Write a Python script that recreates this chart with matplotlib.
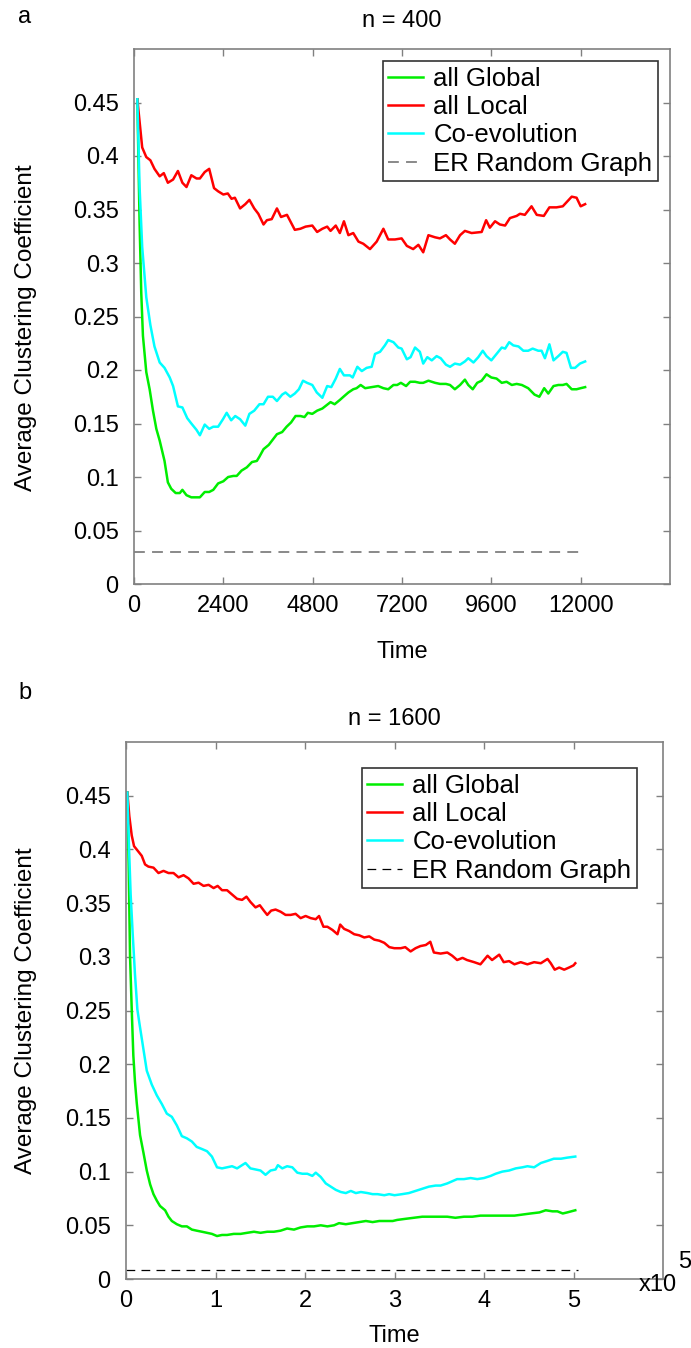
import matplotlib
matplotlib.use('Agg')
import matplotlib.pyplot as plt

plt.rcParams['font.family'] = ['Liberation Sans', 'DejaVu Sans']

# ---- panel a : n = 400 ----
a_red_t = [90, 220, 330, 440, 550, 690, 800, 910, 1050, 1180, 1300, 1410, 1540, 1680, 1770, 1900,
           2020, 2150, 2260, 2400, 2520, 2620, 2710, 2850, 2990, 3100, 3230, 3340, 3480, 3570, 3700,
           3840, 3950, 4110, 4320, 4470, 4610, 4790, 4920, 5060, 5190, 5280, 5420, 5530, 5640, 5760,
           5890, 6030, 6160, 6340, 6520, 6700, 6830, 7010, 7190, 7330, 7500, 7640, 7770, 7910, 8090,
           8220, 8380, 8490, 8620, 8760, 8890, 9070, 9340, 9460, 9560, 9700, 9830, 9970, 10100, 10280,
           10370, 10500, 10680, 10820, 11010, 11160, 11350, 11520, 11760, 11890, 12000, 12120]
a_red = [0.453, 0.408, 0.399, 0.396, 0.388, 0.381, 0.384, 0.375, 0.378, 0.386, 0.375, 0.371, 0.382, 0.379,
         0.379, 0.385, 0.388, 0.370, 0.367, 0.364, 0.365, 0.360, 0.361, 0.351, 0.355, 0.359, 0.351, 0.346,
         0.336, 0.340, 0.341, 0.351, 0.343, 0.345, 0.331, 0.332, 0.334, 0.335, 0.329, 0.332, 0.334, 0.330,
         0.335, 0.328, 0.339, 0.326, 0.328, 0.320, 0.318, 0.313, 0.320, 0.332, 0.322, 0.322, 0.323, 0.316,
         0.313, 0.317, 0.310, 0.326, 0.324, 0.323, 0.326, 0.322, 0.318, 0.326, 0.330, 0.328, 0.329, 0.340,
         0.333, 0.339, 0.336, 0.335, 0.342, 0.344, 0.346, 0.345, 0.353, 0.345, 0.344, 0.352, 0.352, 0.353,
         0.362, 0.361, 0.353, 0.355]

a_cyan_t = [90, 150, 220, 330, 440, 550, 690, 820, 960, 1050, 1180, 1300, 1430, 1540, 1680, 1770, 1900,
            2020, 2130, 2260, 2390, 2490, 2610, 2720, 2850, 2990, 3100, 3230, 3370, 3480, 3600, 3730,
            3840, 3980, 4070, 4200, 4320, 4430, 4540, 4650, 4790, 4910, 5060, 5190, 5300, 5420, 5530,
            5640, 5800, 5875, 6000, 6120, 6250, 6385, 6475, 6610, 6740, 6830, 6970, 7100, 7190, 7330,
            7430, 7550, 7680, 7770, 7880, 8000, 8130, 8240, 8380, 8490, 8620, 8760, 8890, 8980, 9120,
            9250, 9370, 9470, 9600, 9740, 9880, 9970, 10080, 10190, 10330, 10460, 10590, 10710, 10860,
            10950, 11040, 11160, 11270, 11400, 11520, 11620, 11740, 11850, 11980, 12120]
a_cyan = [0.453, 0.371, 0.315, 0.268, 0.242, 0.222, 0.207, 0.202, 0.193, 0.185, 0.166, 0.165, 0.155, 0.150,
          0.144, 0.139, 0.149, 0.145, 0.147, 0.147, 0.154, 0.160, 0.153, 0.157, 0.154, 0.148, 0.159, 0.162,
          0.168, 0.168, 0.175, 0.175, 0.171, 0.177, 0.179, 0.175, 0.178, 0.182, 0.190, 0.188, 0.186, 0.179,
          0.174, 0.185, 0.184, 0.192, 0.201, 0.195, 0.195, 0.193, 0.203, 0.199, 0.202, 0.203, 0.215, 0.217,
          0.223, 0.228, 0.226, 0.221, 0.220, 0.210, 0.212, 0.221, 0.217, 0.206, 0.212, 0.209, 0.213, 0.211,
          0.205, 0.203, 0.206, 0.205, 0.208, 0.211, 0.207, 0.212, 0.218, 0.213, 0.209, 0.215, 0.221, 0.220,
          0.226, 0.223, 0.222, 0.218, 0.218, 0.220, 0.218, 0.218, 0.211, 0.224, 0.209, 0.213, 0.217, 0.216,
          0.202, 0.202, 0.206, 0.208]

a_green_t = [90, 150, 195, 240, 330, 420, 510, 600, 690, 820, 910, 1000, 1120, 1230, 1300, 1410, 1540,
             1680, 1770, 1900, 2020, 2130, 2260, 2400, 2530, 2670, 2760, 2890, 3030, 3170, 3300, 3370,
             3480, 3620, 3730, 3840, 3980, 4100, 4220, 4340, 4470, 4580, 4670, 4790, 4920, 5060, 5170,
             5280, 5390, 5530, 5660, 5760, 5890, 5980, 6090, 6210, 6385, 6560, 6700, 6830, 6970, 7070,
             7170, 7310, 7420, 7550, 7680, 7770, 7910, 8090, 8220, 8380, 8490, 8620, 8760, 8890, 8980,
             9100, 9220, 9340, 9470, 9600, 9740, 9880, 10010, 10150, 10280, 10420, 10590, 10760, 10890,
             11020, 11130, 11270, 11400, 11520, 11620, 11760, 11890, 12000, 12120]
a_green = [0.453, 0.338, 0.272, 0.232, 0.198, 0.182, 0.162, 0.145, 0.134, 0.115, 0.095, 0.089, 0.085, 0.085,
           0.088, 0.083, 0.081, 0.081, 0.081, 0.086, 0.086, 0.088, 0.094, 0.096, 0.100, 0.101, 0.101, 0.106,
           0.109, 0.114, 0.115, 0.119, 0.126, 0.130, 0.135, 0.140, 0.142, 0.147, 0.151, 0.157, 0.157, 0.156,
           0.160, 0.159, 0.162, 0.164, 0.167, 0.170, 0.168, 0.172, 0.176, 0.179, 0.182, 0.183, 0.186, 0.183,
           0.184, 0.185, 0.183, 0.182, 0.186, 0.186, 0.188, 0.185, 0.189, 0.189, 0.188, 0.188, 0.190, 0.188,
           0.187, 0.187, 0.186, 0.182, 0.186, 0.191, 0.186, 0.182, 0.188, 0.190, 0.196, 0.193, 0.192, 0.188,
           0.189, 0.186, 0.187, 0.186, 0.183, 0.177, 0.175, 0.183, 0.178, 0.185, 0.186, 0.186, 0.187, 0.182,
           0.182, 0.183, 0.184]

a_er_t = [0, 12120]
a_er = [0.03, 0.03]

# ---- panel b : n = 1600 (time in units of 1e5) ----
b_red_t = [0.015, 0.037, 0.064, 0.09, 0.138, 0.176, 0.213, 0.25, 0.307, 0.363, 0.419, 0.475, 0.531, 0.587,
           0.643, 0.699, 0.755, 0.811, 0.867, 0.923, 0.979, 1.024, 1.073, 1.129, 1.185, 1.241, 1.297, 1.346,
           1.391, 1.447, 1.495, 1.54, 1.578, 1.622, 1.671, 1.727, 1.783, 1.839, 1.895, 1.951, 2.007, 2.064,
           2.12, 2.157, 2.206, 2.25, 2.307, 2.363, 2.393, 2.437, 2.493, 2.55, 2.606, 2.662, 2.718, 2.774,
           2.83, 2.886, 2.942, 2.998, 3.07, 3.12, 3.18, 3.235, 3.29, 3.35, 3.40, 3.44, 3.515, 3.59, 3.645,
           3.70, 3.76, 3.81, 3.89, 3.96, 4.04, 4.09, 4.17, 4.22, 4.28, 4.34, 4.41, 4.485, 4.56, 4.635, 4.71,
           4.746, 4.79, 4.84, 4.896, 4.95, 5.0, 5.02]
b_red = [0.453, 0.431, 0.413, 0.403, 0.398, 0.394, 0.386, 0.384, 0.383, 0.378, 0.380, 0.378, 0.378, 0.374,
         0.376, 0.373, 0.368, 0.369, 0.366, 0.367, 0.364, 0.366, 0.362, 0.362, 0.358, 0.354, 0.353, 0.356,
         0.351, 0.346, 0.348, 0.343, 0.339, 0.343, 0.344, 0.342, 0.339, 0.339, 0.340, 0.336, 0.338, 0.336,
         0.335, 0.338, 0.328, 0.328, 0.325, 0.321, 0.330, 0.326, 0.324, 0.321, 0.320, 0.318, 0.319, 0.316,
         0.315, 0.313, 0.309, 0.308, 0.308, 0.309, 0.305, 0.308, 0.310, 0.311, 0.314, 0.304, 0.303, 0.304,
         0.301, 0.297, 0.299, 0.297, 0.295, 0.293, 0.301, 0.297, 0.302, 0.295, 0.296, 0.293, 0.295, 0.293,
         0.295, 0.294, 0.298, 0.294, 0.288, 0.290, 0.288, 0.290, 0.292, 0.294]

b_cyan_t = [0.015, 0.022, 0.034, 0.052, 0.075, 0.1, 0.127, 0.15, 0.176, 0.232, 0.288, 0.344, 0.40, 0.456,
            0.512, 0.568, 0.624, 0.68, 0.736, 0.79, 0.849, 0.905, 0.96, 1.017, 1.073, 1.129, 1.185, 1.241,
            1.297, 1.335, 1.39, 1.447, 1.503, 1.559, 1.615, 1.671, 1.697, 1.746, 1.80, 1.858, 1.914, 1.97,
            2.026, 2.082, 2.12, 2.176, 2.232, 2.288, 2.344, 2.40, 2.456, 2.512, 2.568, 2.624, 2.70, 2.755,
            2.81, 2.886, 2.94, 3.0, 3.085, 3.16, 3.235, 3.31, 3.385, 3.46, 3.515, 3.59, 3.645, 3.70, 3.776,
            3.85, 3.925, 4.0, 4.075, 4.13, 4.205, 4.28, 4.355, 4.43, 4.485, 4.56, 4.635, 4.71, 4.78, 4.86,
            4.93, 5.02]
b_cyan = [0.453, 0.434, 0.401, 0.358, 0.321, 0.284, 0.251, 0.238, 0.224, 0.194, 0.181, 0.171, 0.163, 0.154,
          0.151, 0.143, 0.133, 0.131, 0.128, 0.123, 0.121, 0.119, 0.114, 0.104, 0.103, 0.104, 0.105, 0.103,
          0.106, 0.108, 0.103, 0.102, 0.101, 0.097, 0.101, 0.102, 0.106, 0.103, 0.105, 0.104, 0.099, 0.098,
          0.098, 0.096, 0.099, 0.095, 0.089, 0.086, 0.083, 0.081, 0.080, 0.082, 0.080, 0.081, 0.080, 0.079,
          0.079, 0.078, 0.079, 0.078, 0.079, 0.080, 0.082, 0.084, 0.086, 0.087, 0.087, 0.089, 0.091, 0.093,
          0.093, 0.094, 0.093, 0.094, 0.096, 0.098, 0.100, 0.101, 0.103, 0.104, 0.105, 0.104, 0.108, 0.110,
          0.112, 0.112, 0.113, 0.114]

b_green_t = [0.015, 0.03, 0.045, 0.064, 0.082, 0.1, 0.12, 0.157, 0.194, 0.232, 0.27, 0.307, 0.344, 0.38,
             0.437, 0.475, 0.512, 0.568, 0.624, 0.68, 0.736, 0.79, 0.849, 0.905, 0.96, 1.017, 1.073, 1.129,
             1.204, 1.28, 1.353, 1.43, 1.503, 1.578, 1.652, 1.727, 1.80, 1.877, 1.95, 2.026, 2.10, 2.176,
             2.25, 2.325, 2.38, 2.456, 2.53, 2.606, 2.68, 2.755, 2.83, 2.905, 2.98, 3.03, 3.12, 3.215, 3.31,
             3.40, 3.50, 3.59, 3.68, 3.776, 3.87, 3.96, 4.056, 4.15, 4.24, 4.34, 4.43, 4.52, 4.62, 4.69,
             4.765, 4.82, 4.88, 4.93, 5.02]
b_green = [0.453, 0.384, 0.301, 0.251, 0.208, 0.184, 0.164, 0.134, 0.118, 0.101, 0.088, 0.079, 0.073, 0.068,
           0.064, 0.058, 0.054, 0.051, 0.049, 0.049, 0.046, 0.045, 0.044, 0.043, 0.042, 0.040, 0.041, 0.041,
           0.042, 0.042, 0.043, 0.044, 0.043, 0.044, 0.044, 0.045, 0.047, 0.046, 0.048, 0.049, 0.049, 0.050,
           0.049, 0.050, 0.052, 0.051, 0.052, 0.053, 0.054, 0.053, 0.054, 0.054, 0.054, 0.055, 0.056, 0.057,
           0.058, 0.058, 0.058, 0.058, 0.057, 0.058, 0.058, 0.059, 0.059, 0.059, 0.059, 0.059, 0.060, 0.061,
           0.062, 0.064, 0.063, 0.063, 0.061, 0.062, 0.064]

b_er_t = [0, 5.05]
b_er = [0.008, 0.008]

labels = ['all Global', 'all Local', 'Co-evolution', 'ER Random Graph']
y_ticks = [0, 0.05, 0.1, 0.15, 0.2, 0.25, 0.3, 0.35, 0.4, 0.45]
y_ticklabels = ['0', '0.05', '0.1', '0.15', '0.2', '0.25', '0.3', '0.35', '0.4', '0.45']

GREEN = '#00ee00'
RED = '#ff0000'
CYAN = '#00ffff'
SPINE = '#808080'
FS = 17

W, H = 691, 1348
fig = plt.figure(figsize=(W / 100, H / 100), dpi=100)


def box(left, top, right, bottom):
    return [left / W, 1 - bottom / H, (right - left) / W, (bottom - top) / H]


def style(ax):
    for s in ax.spines.values():
        s.set_color(SPINE)
        s.set_linewidth(1.2)
    ax.tick_params(direction='in', length=5, width=1, color=SPINE, labelsize=FS,
                   top=True, right=True, labelcolor='black')
    ax.tick_params(axis='y', pad=11)
    ax.tick_params(axis='x', pad=8)
    ax.set_yticks(y_ticks)
    ax.set_yticklabels(y_ticklabels)
    ax.set_ylim(0, 0.5)


def legend(ax, anchor):
    leg = ax.legend(loc='upper right', bbox_to_anchor=anchor, fontsize=18.5, frameon=True,
                    fancybox=False, handlelength=1.35, handletextpad=0.4, borderpad=0.22,
                    labelspacing=0.17, borderaxespad=0)
    leg.get_frame().set_edgecolor('black')
    leg.get_frame().set_linewidth(1.2)


# panel a
ax1 = fig.add_axes(box(134, 49, 670, 584))
ax1.plot(a_green_t, a_green, color=GREEN, lw=1.8, label=labels[0])
ax1.plot(a_red_t, a_red, color=RED, lw=1.8, label=labels[1])
ax1.plot(a_cyan_t, a_cyan, color=CYAN, lw=1.8, label=labels[2])
ax1.plot(a_er_t, a_er, color='#808080', lw=1.3, ls=(0, (6, 4)), label=labels[3])
style(ax1)
ax1.set_xlim(0, 14400)
ax1.set_xticks([0, 2400, 4800, 7200, 9600, 12000])
ax1.set_xlabel('Time', fontsize=FS, labelpad=17)
ax1.set_ylabel('Average Clustering Coefficient', fontsize=17.5)
ax1.yaxis.set_label_coords(-0.181, 0.48)
ax1.set_title('n = 400', fontsize=FS, pad=16)
legend(ax1, ((658 - 134) / 536, (584 - 61) / 535))
fig.text(18 / W, 1 - 17 / H, 'a', fontsize=FS, va='center')

# panel b
ax2 = fig.add_axes(box(126, 742, 663, 1279))
ax2.plot(b_green_t, b_green, color=GREEN, lw=1.8, label=labels[0])
ax2.plot(b_red_t, b_red, color=RED, lw=1.8, label=labels[1])
ax2.plot(b_cyan_t, b_cyan, color=CYAN, lw=1.8, label=labels[2])
ax2.plot(b_er_t, b_er, color='black', lw=0.9, ls=(0, (7, 5)), label=labels[3])
style(ax2)
ax2.set_xlim(0, 6)
ax2.set_xticks([0, 1, 2, 3, 4, 5])
ax2.set_xticklabels(['0', '1', '2', '3', '4', '5'])
ax2.set_xlabel('Time', fontsize=FS, labelpad=9)
ax2.set_ylabel('Average Clustering Coefficient', fontsize=17.5)
ax2.yaxis.set_label_coords(-0.166, 0.5)
ax2.set_title('n = 1600', fontsize=FS, pad=12)
legend(ax2, ((637 - 126) / 537, (1279 - 768) / 537))
fig.text(18 / W, 1 - 693 / H, 'b', fontsize=FS, va='center')
fig.text(677 / W, 1 - 1285 / H, 'x10', fontsize=FS, va='center', ha='right')
fig.text(678 / W, 1 - 1262 / H, '5', fontsize=FS, va='center', ha='left')

fig.savefig('out.png', dpi=100)
